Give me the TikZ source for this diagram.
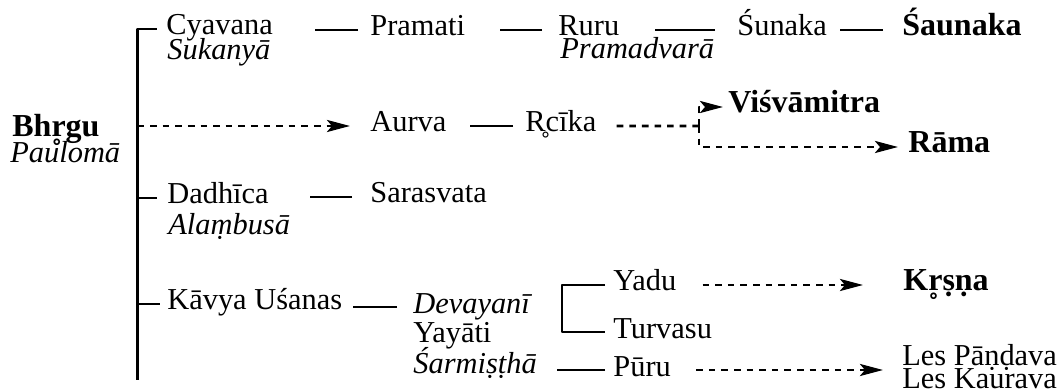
\documentclass[tikz,border=0pt]{standalone}
\usepackage{fontspec}
\setmainfont{Liberation Serif}
\usetikzlibrary{arrows.meta}
\newcommand\famsize{\fontsize{15.2bp}{17bp}\selectfont}
\newcommand\herosize{\fontsize{16bp}{18bp}\selectfont}
\begin{document}
\begin{tikzpicture}[>={Stealth[length=11.5bp,width=6bp,inset=2.5bp]},line join=bevel,
  every node/.style={anchor=base west,inner sep=0pt,text height=9.5bp,text depth=3.5bp,font=\famsize},
  tie/.style={black,line width=1.45bp},
  descent/.style={black,line width=1.45bp,dash pattern=on 3.3bp off 3bp},
  wife/.style={font=\famsize\itshape},
  hero/.style={font=\herosize\bfseries}]
\useasboundingbox (0bp,0bp) rectangle (530.5bp,196bp);
%%
\node (node_bhrgu) at (6bp,127.5bp) [hero] {Bhr̥gu};
  \node (node_pauloma) at (5bp,114.5bp) [wife] {Paulomā};
  \coordinate (trunk_bot) at (68.75bp,6bp);
%
\node (node_cyavana) at (83bp,178.5bp) {Cyavana};
  \node (node_sukanya) at (83.5bp,166bp) [wife] {Sukanyā};
  \node (node_pramati) at (185bp,178bp) {Pramati};
  \node (node_ruru) at (279bp,178bp) {Ruru};
  \node (node_pramadvara) at (280bp,166.5bp) [wife] {Pramadvarā};
  \node (node_sunaka) at (368.5bp,178bp) {Śunaka};
  \node (node_saunaka) at (451bp,178bp) [hero] {Śaunaka};
%
\node (node_aurva) at (185bp,130bp) {Aurva};
  \node (node_rcika) at (262.5bp,130bp) {R̥cīka};
  \node (node_visvamitra) at (364bp,139.5bp) [hero] {Viśvāmitra};
  \node (node_rama) at (454bp,119.5bp) [hero] {Rāma};
  \coordinate (split) at (349.5bp,133bp);
%
\node (node_dadhica) at (83.5bp,94bp) {Dadhīca};
  \node (node_alambusa) at (84bp,78.5bp) [wife] {Alaṃbusā};
  \node (node_sarasvata) at (185bp,94.5bp) {Sarasvata};
%
\node (node_kavya) at (83.5bp,41bp) {Kāvya Uśanas};
  \node (node_devayani) at (206.5bp,39.5bp) [wife] {Devayanī};
  \node (node_yayati) at (206.5bp,25bp) {Yayāti};
  \node (node_sarmistha) at (206.5bp,9.5bp) [wife] {Śarmiṣṭhā};
  \node (node_yadu) at (306.5bp,50.5bp) {Yadu};
  \node (node_turvasu) at (306.5bp,27bp) {Turvasu};
  \node (node_puru) at (306.5bp,8bp) {Pūru};
  \node (node_krsna) at (451.5bp,50.5bp) [hero] {Kr̥ṣṇa};
  \node (node_pandava) at (451bp,13.5bp) {Les Pāṇḍava};
  \node (node_kaurava) at (451bp,2bp) {Les Kaurava};
%
\draw [tie,shorten >=4.5bp] (trunk_bot) |- (node_cyavana.west);
  \draw [tie,shorten >=5bp] (trunk_bot |- node_dadhica.west) -- (node_dadhica.west);
  \draw [tie,shorten >=3.5bp] (trunk_bot |- node_kavya.west) -- (node_kavya.west);
  \draw [descent,->,shorten >=10bp] (trunk_bot |- node_aurva.west) -- (node_aurva.west);
%
\draw [tie] (node_pramati.west) ++(-6bp,0) -- ++(-21.5bp,0);
  \draw [tie] (node_ruru.west) ++(-8bp,0) -- ++(-21bp,0);
  \draw [tie] (node_sunaka.west) ++(-11bp,0) -- ++(-30bp,0);
  \draw [tie] (node_saunaka.west) ++(-9.5bp,0) -- ++(-21.5bp,0);
%
\draw [tie] (node_rcika.west) ++(-6bp,0) -- ++(-21.5bp,0);
  \draw [descent] (node_rcika.east) ++(10bp,0) -- (split);
  \draw [descent,->,shorten >=2.5bp] (split) |- (node_visvamitra.west);
  \draw [descent,->,shorten >=5bp] (split) |- (node_rama.west);
%
\draw [tie] (node_sarasvata.west) ++(-9bp,0) -- ++(-21bp,0);
%
\draw [tie] (node_devayani.west) ++(-8bp,0) -- ++(-22bp,0);
  \draw [tie,shorten <=4bp,shorten >=4bp] (node_yadu.west) -- ++(-25.5bp,0) |- (node_turvasu.west);
  \draw [tie] (node_puru.west) ++(-4bp,0) -- ++(-24bp,0);
  \draw [descent,->,shorten >=20bp] (node_yadu.east) ++(13bp,0) -- (node_krsna.west);
  \draw [descent,->,shorten >=9.5bp] (node_puru.east) ++(12.5bp,0) -- (node_puru.east -| node_pandava.west);
%
\end{tikzpicture}
\end{document}
